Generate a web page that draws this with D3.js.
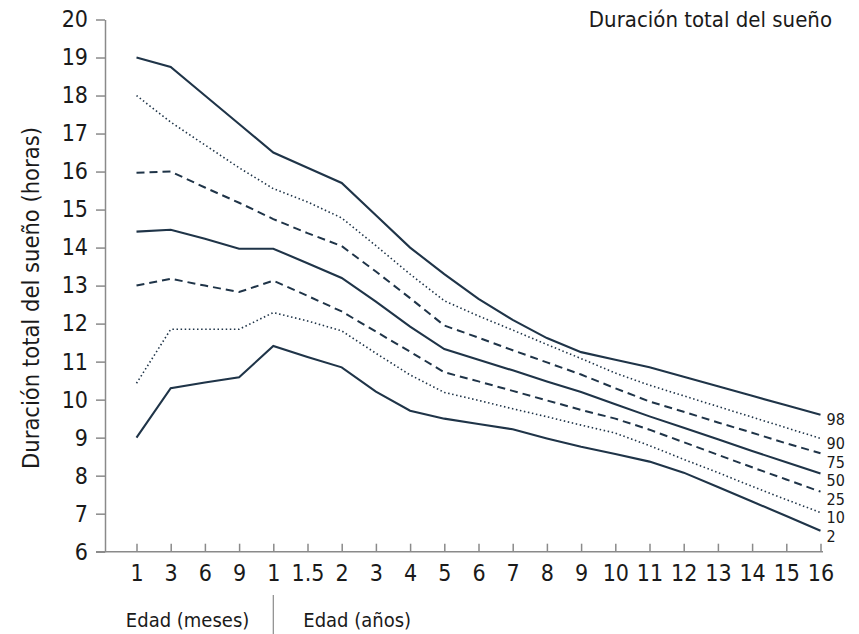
<!DOCTYPE html>
<html>
<head>
<meta charset="utf-8">
<script src="https://cdn.jsdelivr.net/npm/d3@7"></script>
<style>
  body { margin: 0; background: #fff; }
  svg text { font-family: "DejaVu Sans Condensed", "Liberation Sans Narrow", sans-serif; fill: #1a1a1a; }
</style>
</head>
<body>
<svg id="chart" width="859" height="634"></svg>
<script>
// x categories: months first, then years
var ageLabels = ["1", "3", "6", "9", "1", "1.5", "2", "3", "4", "5", "6", "7", "8", "9", "10", "11", "12", "13", "14", "15", "16"];
var yTicks = [6, 7, 8, 9, 10, 11, 12, 13, 14, 15, 16, 17, 18, 19, 20];

// percentile curves (hours)
var p98 = [19.0, 18.75, 18.0, 17.25, 16.5, 16.1, 15.7, 14.85, 14.0, 13.3, 12.65, 12.1, 11.62, 11.25, 11.05, 10.85, 10.6, 10.35, 10.1, 9.85, 9.6];
var p90 = [18.0, 17.3, 16.7, 16.1, 15.55, 15.2, 14.78, 14.05, 13.3, 12.6, 12.2, 11.83, 11.45, 11.08, 10.7, 10.38, 10.1, 9.82, 9.54, 9.26, 8.98];
var p75 = [15.97, 16.0, 15.58, 15.18, 14.75, 14.38, 14.04, 13.37, 12.67, 11.95, 11.63, 11.3, 10.98, 10.66, 10.3, 9.95, 9.68, 9.4, 9.13, 8.85, 8.59];
var p50 = [14.42, 14.47, 14.23, 13.97, 13.97, 13.59, 13.2, 12.58, 11.92, 11.33, 11.05, 10.77, 10.48, 10.2, 9.88, 9.56, 9.26, 8.96, 8.65, 8.35, 8.06];
var p25 = [13.0, 13.18, 13.0, 12.83, 13.13, 12.73, 12.32, 11.79, 11.26, 10.72, 10.48, 10.23, 9.98, 9.73, 9.5, 9.21, 8.88, 8.55, 8.22, 7.9, 7.58];
var p10 = [10.43, 11.85, 11.85, 11.85, 12.29, 12.07, 11.81, 11.22, 10.65, 10.19, 9.98, 9.76, 9.55, 9.33, 9.12, 8.79, 8.43, 8.08, 7.72, 7.37, 7.03];
var p2 = [9.0, 10.3, 10.45, 10.59, 11.41, 11.12, 10.85, 10.21, 9.71, 9.5, 9.36, 9.22, 8.98, 8.76, 8.57, 8.37, 8.08, 7.7, 7.32, 6.94, 6.55];

var seriesNames = ["98", "90", "75", "50", "25", "10", "2"];
var seriesValues = [p98, p90, p75, p50, p25, p10, p2];
var seriesStyles = ["solid", "dotted", "dashed", "solid", "dashed", "dotted", "solid"];

var lineColor = "#1f3448";
var axisColor = "#8a8a8a";

var svg = d3.select("#chart");

var x = d3.scalePoint()
    .domain(d3.range(ageLabels.length))
    .range([136.5, 820.5]);

var y = d3.scaleLinear()
    .domain([6, 20])
    .range([551.7, 19.5]);

// y axis
var yAxis = svg.append("g")
    .attr("transform", "translate(105,0)")
    .call(d3.axisLeft(y).tickValues(yTicks).tickSizeInner(9).tickSizeOuter(0).tickPadding(8));
yAxis.selectAll("path, line").attr("stroke", axisColor).attr("stroke-width", 1.5);
yAxis.selectAll("text").style("font-size", "23px").attr("fill", "#1a1a1a");

// x axis, ticks point upward
var xAxis = svg.append("g")
    .attr("transform", "translate(0,551.7)")
    .call(d3.axisBottom(x).tickFormat(function (i) { return ageLabels[i]; }).tickSizeInner(-8).tickSizeOuter(0).tickPadding(13));
xAxis.select(".domain").remove();
xAxis.selectAll("line").attr("stroke", axisColor).attr("stroke-width", 1.5);
xAxis.selectAll("text").style("font-size", "23px").attr("fill", "#1a1a1a");
svg.append("line")
    .attr("x1", 96).attr("x2", 823)
    .attr("y1", 551.7).attr("y2", 551.7)
    .attr("stroke", axisColor).attr("stroke-width", 1.5);

// curves
var line = d3.line()
    .x(function (d, i) { return x(i); })
    .y(function (d) { return y(d); });

var dashes = { solid: null, dashed: "8,5", dotted: "1.5,2.6" };
var widths = { solid: 2.1, dashed: 2, dotted: 1.6 };

svg.selectAll("path.curve")
    .data(seriesValues)
    .enter()
    .append("path")
    .attr("class", "curve")
    .attr("d", line)
    .attr("fill", "none")
    .attr("stroke", lineColor)
    .attr("stroke-width", function (d, i) { return widths[seriesStyles[i]]; })
    .attr("stroke-dasharray", function (d, i) { return dashes[seriesStyles[i]]; });

// percentile labels at the right end, pushed apart so they don't collide
var labelY = [];
seriesValues.forEach(function (d, i) {
    var ly = y(d[d.length - 1]) + 5;
    if (i > 0 && ly < labelY[i - 1] + 18.5) ly = labelY[i - 1] + 18.5;
    labelY.push(ly);
});

svg.selectAll("text.pct")
    .data(seriesValues)
    .enter()
    .append("text")
    .attr("class", "pct")
    .attr("x", x(ageLabels.length - 1) + 6)
    .attr("y", function (d, i) { return labelY[i]; })
    .attr("dy", "0.35em")
    .style("font-size", "16px")
    .text(function (d, i) { return seriesNames[i]; });

// titles
svg.append("text")
    .attr("x", 832).attr("y", 27)
    .attr("text-anchor", "end")
    .style("font-size", "22px")
    .text("Duración total del sueño");

svg.append("text")
    .attr("transform", "translate(39,298) rotate(-90)")
    .attr("text-anchor", "middle")
    .style("font-size", "23.5px")
    .text("Duración total del sueño (horas)");

svg.append("text")
    .attr("x", x(4) - 24).attr("y", 627)
    .attr("text-anchor", "end")
    .style("font-size", "20px")
    .text("Edad (meses)");

svg.append("text")
    .attr("x", x(4) + 30).attr("y", 627)
    .style("font-size", "20px")
    .text("Edad (años)");

svg.append("line")
    .attr("x1", x(4)).attr("x2", x(4))
    .attr("y1", 595).attr("y2", 634)
    .attr("stroke", axisColor).attr("stroke-width", 1.2);
</script>
</body>
</html>
